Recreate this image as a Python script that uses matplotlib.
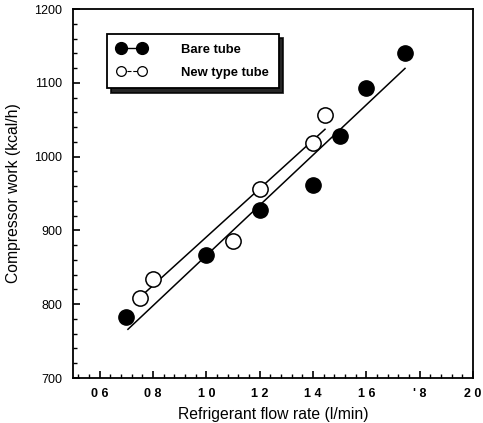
import matplotlib
matplotlib.use("Agg")
import matplotlib.pyplot as plt
from matplotlib.lines import Line2D
from matplotlib.ticker import MultipleLocator, FixedLocator

plt.rcParams['font.family'] = ['Liberation Sans', 'DejaVu Sans']

# Data
bare_x = [0.70, 1.00, 1.20, 1.40, 1.50, 1.60, 1.745]
bare_y = [782, 867, 927, 962, 1028, 1093, 1140]
new_x = [0.75, 0.80, 1.10, 1.20, 1.40, 1.445]
new_y = [808, 834, 885, 956, 1018, 1057]
# Fitted lines (end points)
bare_fit_x = [0.706, 1.745]
bare_fit_y = [766, 1119.5]
new_fit_x = [0.75, 1.445]
new_fit_y = [809, 1037]

xticks = [0.6, 0.8, 1.0, 1.2, 1.4, 1.6, 1.8, 2.0]
xticklabels = ["0 6", "0 8", "1 0", "1 2", "1 4", "1 6", "' 8", "2 0"]
yticks = [700, 800, 900, 1000, 1100, 1200]
yticklabels = ["700", "800", "900", "1000", "1100", "1200"]

fig = plt.figure(figsize=(4.83, 4.23), dpi=100)
ax = fig.add_axes([73/483, 1-378/423, 400/483, 369/423])

ax.plot(bare_fit_x, bare_fit_y, color='black', lw=1.1, zorder=2)
ax.plot(new_fit_x, new_fit_y, color='black', lw=1.1, zorder=2)
ax.plot(bare_x, bare_y, 'o', ms=11, mfc='black', mec='black', ls='none', zorder=3)
ax.plot(new_x, new_y, 'o', ms=11, mfc='white', mec='black', mew=1.1, ls='none', zorder=3)

ax.set_xlim(0.5, 2.0)
ax.set_ylim(700, 1200)
ax.xaxis.set_major_locator(FixedLocator(xticks))
ax.set_xticklabels(xticklabels, fontsize=9, fontweight='bold')
ax.xaxis.set_minor_locator(MultipleLocator(0.04))
ax.yaxis.set_major_locator(FixedLocator(yticks))
ax.set_yticklabels(yticklabels, fontsize=9)
ax.yaxis.set_minor_locator(MultipleLocator(20))
ax.tick_params(which='both', direction='in', top=False, right=False, color='black')
ax.tick_params(which='major', length=5, width=1.2)
ax.tick_params(which='minor', length=3, width=1.0)
ax.tick_params(axis='x', which='major', pad=7)
ax.tick_params(axis='y', which='major', pad=8)
for s in ax.spines.values():
    s.set_linewidth(1.3)

ax.set_xlabel("Refrigerant flow rate (l/min)", fontsize=11.3, labelpad=5)
ax.set_ylabel("Compressor work (kcal/h)", fontsize=11.3, labelpad=9)

handles = [
    Line2D([], [], color='black', ls='-', lw=1.0, marker='o', ms=8.5, mfc='black', mec='black'),
    Line2D([], [], color='black', ls='--', lw=0.8, marker='o', ms=7, mfc='white', mec='black', mew=0.9),
]
leg = ax.legend(handles, ["Bare tube", "New type tube"], loc='upper left',
                bbox_to_anchor=(0.085, 0.932), borderaxespad=0, numpoints=2,
                handlelength=2.2, handletextpad=2.75, fontsize=9.4, fancybox=False,
                edgecolor='black', framealpha=1, borderpad=0.75, labelspacing=0.8,
                shadow={'ox': 3, 'oy': -3, 'color': 'black', 'alpha': 0.85})
leg.get_frame().set_linewidth(1.3)
for t in leg.get_texts():
    t.set_fontweight('bold')

fig.savefig("out.png", dpi=100)
